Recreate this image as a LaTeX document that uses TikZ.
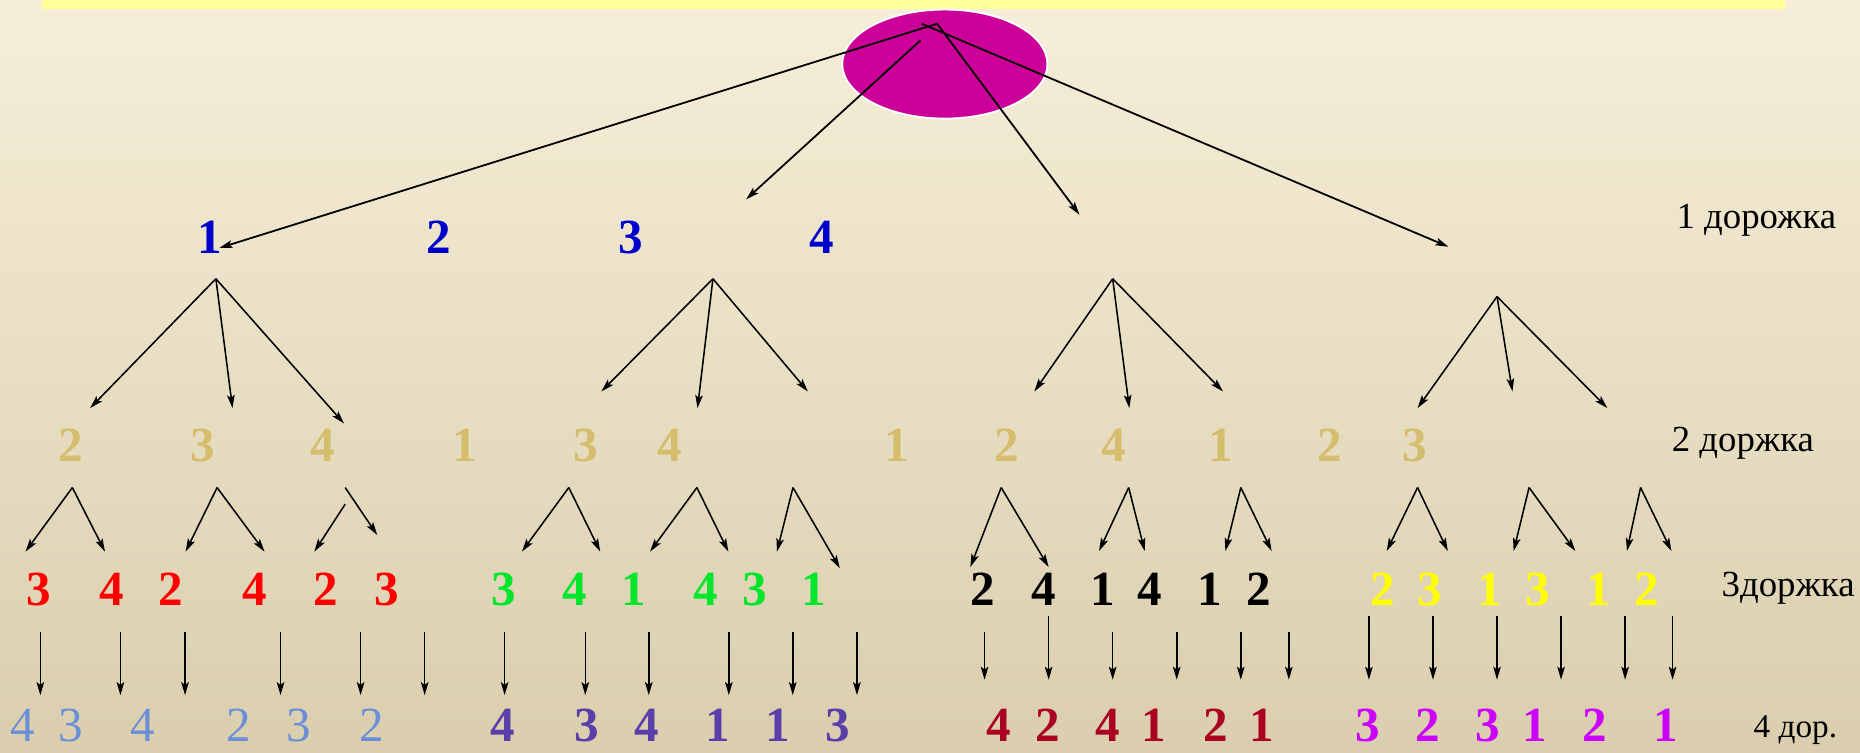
\documentclass[tikz,border=0pt]{standalone}
\usepackage{fontspec}
\setmainfont{Liberation Serif}
\usetikzlibrary{arrows.meta,shapes.geometric}
\definecolor{bgtop}{HTML}{F6EED8}
\definecolor{bgmid}{HTML}{EFE8D1}
\definecolor{bgbot}{HTML}{DACEAE}
\definecolor{barY}{HTML}{FFFF99}
\definecolor{ellC}{HTML}{CC0099}
\definecolor{lvOne}{HTML}{0000CC}
\definecolor{lvTwo}{HTML}{D4BD6C}
\definecolor{cRed}{HTML}{FF0000}
\definecolor{cGreen}{HTML}{00E62A}
\definecolor{cYellow}{HTML}{FFFF00}
\definecolor{cLBlue}{HTML}{6A8FD8}
\definecolor{cPurple}{HTML}{5A3FAA}
\definecolor{cDRed}{HTML}{AA0022}
\definecolor{cMag}{HTML}{CC00FF}
\begin{document}
\begin{tikzpicture}[x=0.5pt,y=-0.5pt,
  arr/.style={-{Stealth[length=5.5pt,width=3.2pt,inset=1.2pt]}, line width=0.65pt},
  dig/.style={font=\fontsize{20.7}{22}\selectfont\bfseries, inner sep=0pt, anchor=base},
  digr/.style={font=\fontsize{20.7}{22}\selectfont, inner sep=0pt, anchor=base},
  lab/.style={font=\fontsize{15.5}{17}\selectfont, inner sep=0pt, anchor=base west},
  labs/.style={font=\fontsize{14}{16}\selectfont, inner sep=0pt, anchor=base west}]
\useasboundingbox (0,0) rectangle (1568,634);
\shade[top color=bgtop, middle color=bgmid, bottom color=bgbot] (0,0) rectangle (1568,634);
\fill[barY] (35,0) rectangle (1505,7.6);
\node[ellipse, draw=white, fill=ellC, line width=0.8pt, inner sep=0pt,
      minimum width=86.5pt, minimum height=46pt] (root) at (796.5,54) {};

% level 1 digits
\foreach \x/\d [count=\i] in {177/1,370/2,532/3,693/4}
  {\node[dig, text=lvOne] (one\i) at (\x,214) {\d};}

% arrows from root
\coordinate (s1) at (790,20);
\coordinate (s2) at (776,34);
\coordinate (s3) at (790,20);
\coordinate (s4) at (777,20);
\coordinate (t1) at (185,209);
\coordinate (t2) at (629,168);
\coordinate (t3) at (910,181);
\coordinate (t4) at (1221,208);
\foreach \i in {1,...,4} {\draw[arr, line width=0.75pt] (s\i) -- (t\i);}

% level 2 digits
\foreach \x/\d [count=\i] in {60/2,171/3,272/4,392/1,494/3,565/4,756/1,849/2,939/4,1029/1,1121/2,1193/3}
  {\node[dig, text=lvTwo] (two\i) at (\x,389) {\d};}

% level 2 fans
\coordinate (A1) at (182,235);
\foreach \x/\y [count=\i] in {76/344,196/344,290/357}
  {\coordinate (A1t\i) at (\x,\y); \draw[arr] (A1) -- (A1t\i);}
\coordinate (A2) at (601,235);
\foreach \x/\y [count=\i] in {507/330,588/344,681/330}
  {\coordinate (A2t\i) at (\x,\y); \draw[arr] (A2) -- (A2t\i);}
\coordinate (A3) at (938,235);
\foreach \x/\y [count=\i] in {872/330,952/344,1031/330}
  {\coordinate (A3t\i) at (\x,\y); \draw[arr] (A3) -- (A3t\i);}
\coordinate (A4) at (1262,250);
\foreach \x/\y [count=\i] in {1195/344,1275/330,1355/344}
  {\coordinate (A4t\i) at (\x,\y); \draw[arr] (A4) -- (A4t\i);}

% level 3 fans
\foreach \ax/\lx/\ly/\rx/\ry [count=\i] in {
   61/21.5/465/88.5/465, 183/156.5/465/223/465,
   479.5/440/465/506/465, 587.5/548/465/614/465, 668.5/655/465/708/479,
   844/818/478/884/478, 951.5/926.5/464.5/965/464.5, 1046/1033/464.5/1072/464.5,
   1195/1169/464.5/1220.5/464.5, 1289/1276/464.5/1328/464.5, 1383/1371.5/464.5/1409/464.5}
  {\coordinate (B\i) at (\ax,411);
   \coordinate (B\i l) at (\lx,\ly);
   \coordinate (B\i r) at (\rx,\ry);
   \draw[arr] (B\i) -- (B\i l);
   \draw[arr] (B\i) -- (B\i r);}
\coordinate (Ca) at (291,411);
\coordinate (Cat) at (318,451);
\coordinate (Cb) at (291,425);
\coordinate (Cbt) at (265,465);
\draw[arr] (Ca) -- (Cat);
\draw[arr] (Cb) -- (Cbt);

% level 3 digits
\foreach \x/\d [count=\i] in {32.5/3,94/4,144/2,215/4,275/2,326/3}
  {\node[dig, text=cRed] (thr\i) at (\x,510.5) {\d};}
\foreach \x/\d [count=\i] in {424.5/3,484.5/4,534.5/1,595/4,636/3,686/1}
  {\node[dig, text=cGreen] (thg\i) at (\x,510.5) {\d};}
\foreach \x/\d [count=\i] in {828.5/2,879.5/4,930/1,969.5/4,1020/1,1061/2}
  {\node[dig, text=black] (thk\i) at (\x,510.5) {\d};}
\foreach \x/\d [count=\i] in {1166/2,1205.5/3,1256/1,1296.5/3,1347.5/1,1388.5/2}
  {\node[dig, text=cYellow] (thy\i) at (\x,510.5) {\d};}

% level 4 arrows
\foreach \x/\ys/\ye [count=\i] in {
   34/533/586, 101.5/533/586, 156/533/586, 236.5/533/586, 304/533/586, 358/533/586,
   425.4/533/586, 493.4/533/586, 546.9/533/586, 614.4/533/586, 668.3/533/586, 722.4/533/586,
   830/533/573, 884/519/573, 938/533/573, 992/533/573, 1046/533/573, 1086.5/533/573,
   1154/519/573, 1208/519/573, 1262/519/573, 1316/519/573, 1370/519/573, 1410/519/573}
  {\coordinate (p\i) at (\x,\ys);
   \coordinate (q\i) at (\x,\ye);
   \draw[arr] (p\i) -- (q\i);}

% level 4 digits
\foreach \x/\d [count=\i] in {19.5/4,59.5/3,120.5/4,201.5/2,252/3,313/2}
  {\node[digr, text=cLBlue] (fol\i) at (\x,625) {\d};}
\foreach \x/\d [count=\i] in {423.5/4,495/3,545/4,605/1,655.5/1,706.5/3}
  {\node[dig, text=cPurple] (fop\i) at (\x,625) {\d};}
\foreach \x/\d [count=\i] in {842/4,883.5/2,933.5/4,973/1,1024.5/2,1064/1}
  {\node[dig, text=cDRed] (fod\i) at (\x,625) {\d};}
\foreach \x/\d [count=\i] in {1153/3,1203.5/2,1254/3,1294/1,1344.5/2,1404/1}
  {\node[dig, text=cMag] (fom\i) at (\x,625) {\d};}

% labels
\node[lab] (labA) at (1413,193) {1 дорожка};
\node[lab] (labB) at (1409,381) {2 доржка};
\node[lab] (labC) at (1451,503) {3доржка};
\node[labs] (labD) at (1478,622) {4 дор.};
\end{tikzpicture}
\end{document}
